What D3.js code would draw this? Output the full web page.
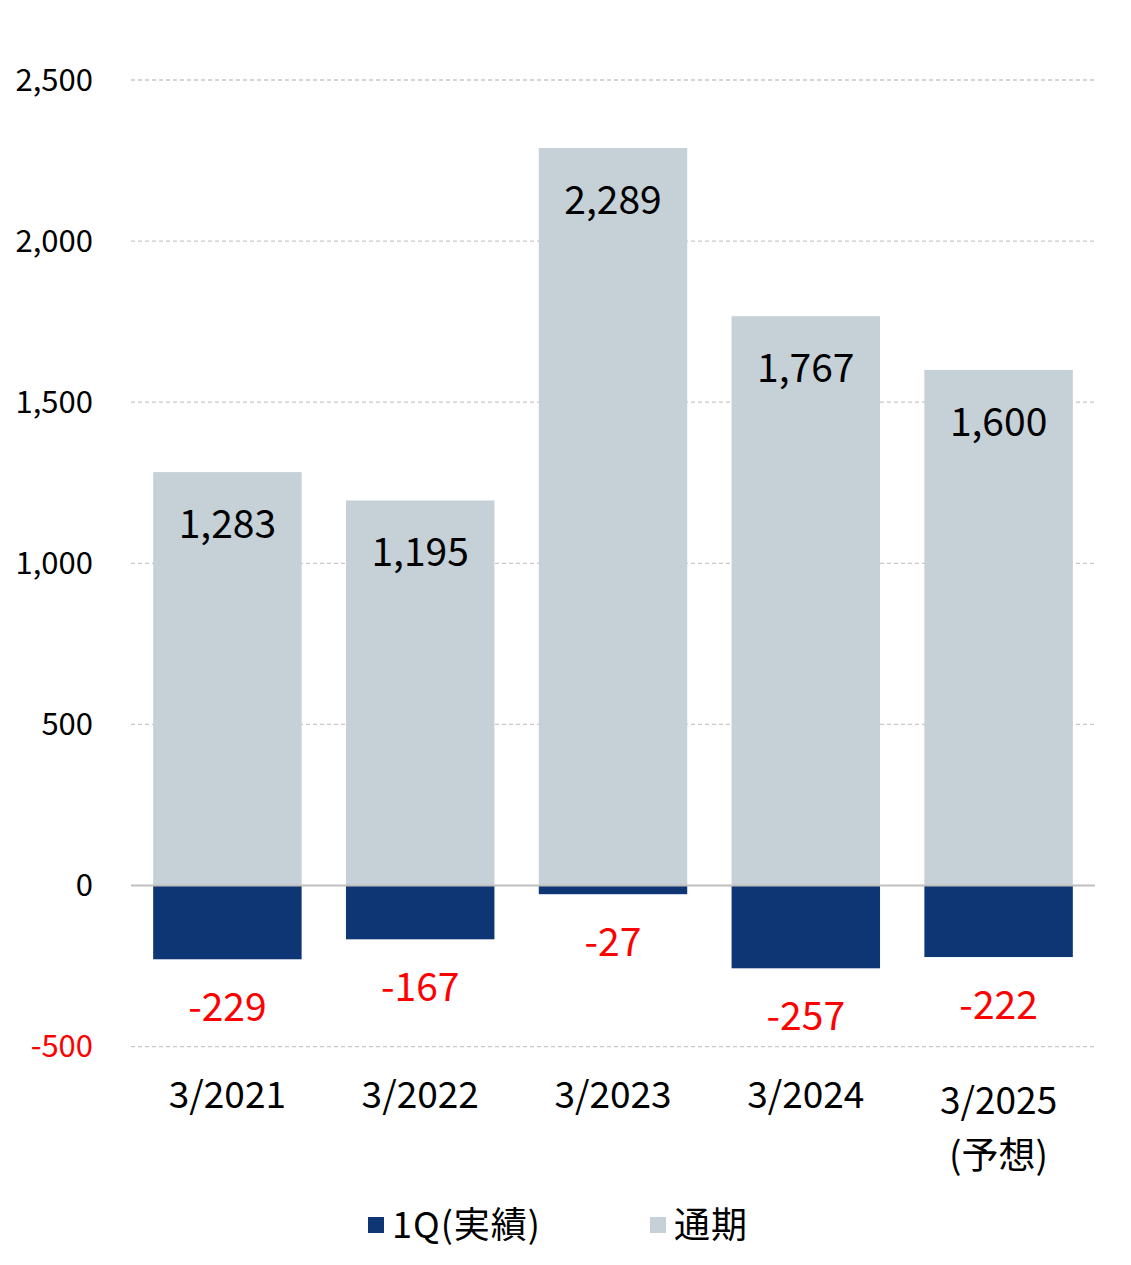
<!DOCTYPE html>
<html>
<head>
<meta charset="utf-8">
<script src="https://cdn.jsdelivr.net/npm/d3@7"></script>
<style>
  body { margin: 0; background: #fff; }
  text { font-family: "Noto Sans CJK JP", "Noto Sans", sans-serif; }
</style>
</head>
<body>
<svg id="chart"></svg>
<script>
const categories = ["3/2021", "3/2022", "3/2023", "3/2024", "3/2025\n(予想)"];
const fullYear = [1283, 1195, 2289, 1767, 1600];
const firstQuarter = [-229, -167, -27, -257, -222];
const yTicks = [-500, 0, 500, 1000, 1500, 2000, 2500];
const legendLabels = ["1Q(実績)", "通期"];

const W = 1131, H = 1265;
const colors = { q1: "#0f3674", full: "#c5d0d7" };

const fmt = d3.formatLocale({
	decimal: ".", thousands: ",", grouping: [3], currency: ["", ""], minus: "-"
}).format(",");

const svg = d3.select("#chart").attr("width", W).attr("height", H);

const x = d3.scaleBand()
	.domain(categories)
	.range([131, 1095])
	.paddingInner(0.23)
	.paddingOuter(0.115);

const y = d3.scaleLinear()
	.domain([-500, 2500])
	.range([1046.6, 80]);

// grid
svg.append("g")
	.selectAll("line")
	.data(yTicks.filter(d => d !== 0))
	.join("line")
	.attr("x1", 131)
	.attr("x2", 1095)
	.attr("y1", d => y(d))
	.attr("y2", d => y(d))
	.attr("stroke", "#c8c8c8")
	.attr("stroke-width", 1.3)
	.attr("stroke-dasharray", "4,3");

// y tick labels
svg.append("g")
	.selectAll("text")
	.data(yTicks)
	.join("text")
	.attr("x", 93)
	.attr("y", d => y(d))
	.attr("dy", "0.35em")
	.attr("text-anchor", "end")
	.attr("font-size", 31)
	.attr("fill", d => d < 0 ? "#ff0000" : "#000")
	.text(d => fmt(d));

// full year bars
svg.append("g")
	.selectAll("rect")
	.data(fullYear)
	.join("rect")
	.attr("x", (d, i) => x(categories[i]))
	.attr("width", x.bandwidth())
	.attr("y", d => y(d))
	.attr("height", d => y(0) - y(d))
	.attr("fill", colors.full);

// 1Q bars
svg.append("g")
	.selectAll("rect")
	.data(firstQuarter)
	.join("rect")
	.attr("x", (d, i) => x(categories[i]))
	.attr("width", x.bandwidth())
	.attr("y", y(0))
	.attr("height", d => y(d) - y(0))
	.attr("fill", colors.q1);

// zero line
svg.append("line")
	.attr("x1", 131)
	.attr("x2", 1095)
	.attr("y1", y(0))
	.attr("y2", y(0))
	.attr("stroke", "#bfbfbf")
	.attr("stroke-width", 2);

// value labels
svg.append("g")
	.selectAll("text")
	.data(fullYear)
	.join("text")
	.attr("x", (d, i) => x(categories[i]) + x.bandwidth() / 2)
	.attr("y", d => y(d) + 52)
	.attr("dy", "0.35em")
	.attr("text-anchor", "middle")
	.attr("font-size", 39)
	.attr("fill", "#000")
	.text(d => fmt(d));

svg.append("g")
	.selectAll("text")
	.data(firstQuarter)
	.join("text")
	.attr("x", (d, i) => x(categories[i]) + x.bandwidth() / 2)
	.attr("y", d => y(d) + 48)
	.attr("dy", "0.35em")
	.attr("text-anchor", "middle")
	.attr("font-size", 39)
	.attr("fill", "#ff0000")
	.text(d => fmt(d));

// x labels
const xl = svg.append("g")
	.selectAll("text")
	.data(categories)
	.join("text")
	.attr("x", d => x(d) + x.bandwidth() / 2)
	.attr("y", d => d.includes("\n") ? 1101 : 1095)
	.attr("text-anchor", "middle")
	.attr("font-size", 37)
	.attr("fill", "#000");

xl.each(function(d) {
	const lines = d.split("\n");
	d3.select(this).selectAll("tspan")
		.data(lines)
		.join("tspan")
		.attr("x", x(d) + x.bandwidth() / 2)
		.attr("dy", (l, i) => i === 0 ? "0.35em" : "1.5em")
		.text(l => l);
});

// legend
const legend = svg.append("g");
const legendX = [368, 650];
const legendColors = [colors.q1, colors.full];
legendLabels.forEach((label, i) => {
	legend.append("rect")
		.attr("x", legendX[i])
		.attr("y", 1217)
		.attr("width", 16)
		.attr("height", 16)
		.attr("fill", legendColors[i]);
	legend.append("text")
		.attr("x", legendX[i] + 24)
		.attr("y", 1225)
		.attr("dy", "0.35em")
		.attr("font-size", 36)
		.attr("letter-spacing", 1)
		.attr("fill", "#000")
		.text(label);
});
</script>
</body>
</html>
